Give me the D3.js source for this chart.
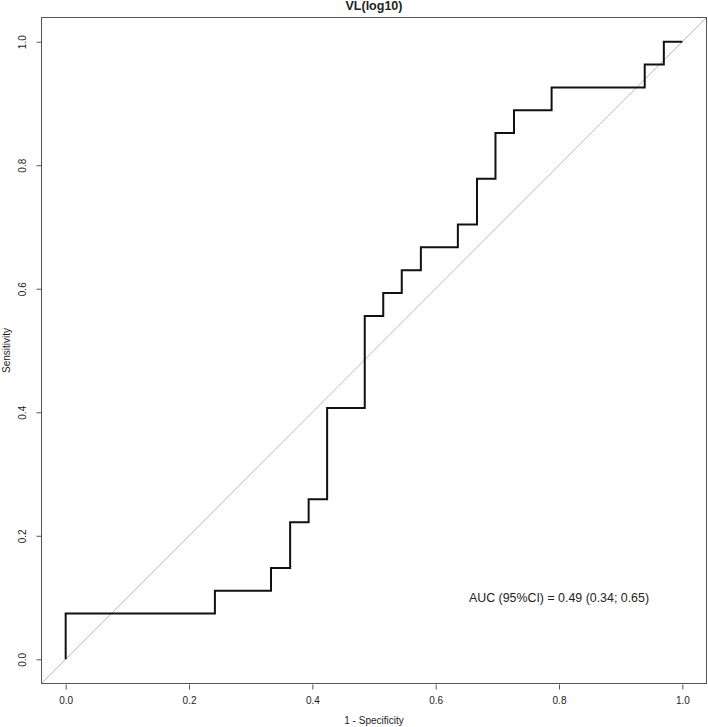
<!DOCTYPE html>
<html>
  <head>
    <meta charset="utf-8" />
    <title>ROC</title>
    <script src="https://d3js.org/d3.v7.min.js"></script>
    <style>
      body {
        margin: 0;
        background: #fff;
      }
      text {
        font-family: "Liberation Sans", Arial, sans-serif;
        fill: #222;
      }
    </style>
  </head>
  <body>
    <svg id="roc"></svg>

    <script>
      // ROC corner points (1 - specificity, sensitivity)
      var fpr = [0, 0, 0.242, 0.333, 0.364, 0.394, 0.424, 0.485, 0.515, 0.545,
                 0.576, 0.636, 0.667, 0.697, 0.727, 0.788, 0.939, 0.970, 1.0];
      var tpr = [0, 0.074, 0.111, 0.148, 0.222, 0.259, 0.407, 0.556, 0.593, 0.630,
                 0.667, 0.704, 0.778, 0.852, 0.889, 0.926, 0.963, 1.0, 1.0];
      var xTicks = [0, 0.2, 0.4, 0.6, 0.8, 1.0];
      var yTicks = [0, 0.2, 0.4, 0.6, 0.8, 1.0];
      var title = "VL(log10)";
      var aucLabel = "AUC (95%CI) = 0.49 (0.34; 0.65)";

      var width = 708;
      var height = 727;
      var margin = { top: 17, right: 1, bottom: 43, left: 41 };

      var svg = d3.select("#roc")
        .attr("width", width)
        .attr("height", height);

      // R style 4% padding around [0, 1]
      var x = d3.scaleLinear()
        .domain([-0.04, 1.04])
        .range([margin.left, width - margin.right]);

      var y = d3.scaleLinear()
        .domain([-0.04, 1.04])
        .range([height - margin.bottom, margin.top]);

      var points = fpr.map(function(d, i) {
        return [d, tpr[i]];
      });

      // diagonal reference line across the whole box
      svg.append("line")
        .attr("x1", x(-0.04))
        .attr("y1", y(-0.04))
        .attr("x2", x(1.04))
        .attr("y2", y(1.04))
        .attr("stroke", "#b8b8b8")
        .attr("stroke-width", 1);

      var line = d3.line()
        .x(function(d) { return x(d[0]); })
        .y(function(d) { return y(d[1]); })
        .curve(d3.curveStepAfter);

      svg.append("path")
        .datum(points)
        .attr("d", line)
        .attr("fill", "none")
        .attr("stroke", "#111")
        .attr("stroke-width", 2);

      // box
      svg.append("rect")
        .attr("x", margin.left + 0.5)
        .attr("y", margin.top + 0.5)
        .attr("width", width - margin.left - margin.right - 1)
        .attr("height", height - margin.top - margin.bottom - 1)
        .attr("fill", "none")
        .attr("stroke", "#555");

      // x axis
      var xAxis = d3.axisBottom(x)
        .tickValues(xTicks)
        .tickSize(5)
        .tickPadding(7)
        .tickFormat(d3.format(".1f"));

      var gx = svg.append("g")
        .attr("transform", "translate(0," + (height - margin.bottom + 0.5) + ")")
        .call(xAxis);
      gx.select(".domain").remove();
      gx.selectAll("line").attr("stroke", "#555");
      gx.selectAll("text")
        .attr("font-size", 10)
        .attr("font-family", "Liberation Sans, Arial, sans-serif")
        .attr("fill", "#222");

      // y axis, labels parallel to the axis
      var yAxis = d3.axisLeft(y)
        .tickValues(yTicks)
        .tickSize(5)
        .tickFormat(d3.format(".1f"));

      var gy = svg.append("g")
        .attr("transform", "translate(" + (margin.left + 0.5) + ",0)")
        .call(yAxis);
      gy.select(".domain").remove();
      gy.selectAll("line").attr("stroke", "#555");
      gy.selectAll("text")
        .attr("font-size", 10)
        .attr("font-family", "Liberation Sans, Arial, sans-serif")
        .attr("fill", "#222")
        .attr("x", null)
        .attr("dy", null)
        .attr("text-anchor", "middle")
        .attr("transform", "translate(-15.5,0) rotate(-90)");

      // titles
      svg.append("text")
        .attr("x", (x(-0.04) + x(1.04)) / 2)
        .attr("y", 10)
        .attr("text-anchor", "middle")
        .attr("font-size", 12.5)
        .attr("font-weight", "bold")
        .text(title);

      svg.append("text")
        .attr("x", (x(-0.04) + x(1.04)) / 2)
        .attr("y", 723.5)
        .attr("text-anchor", "middle")
        .attr("font-size", 10)
        .text("1 - Specificity");

      svg.append("text")
        .attr("transform", "translate(10," + (y(-0.04) + y(1.04)) / 2 + ") rotate(-90)")
        .attr("text-anchor", "middle")
        .attr("font-size", 10)
        .text("Sensitivity");

      svg.append("text")
        .attr("x", x(0.8))
        .attr("y", y(0.1) + 4.5)
        .attr("text-anchor", "middle")
        .attr("font-size", 12.4)
        .text(aucLabel);
    </script>
  </body>
</html>
